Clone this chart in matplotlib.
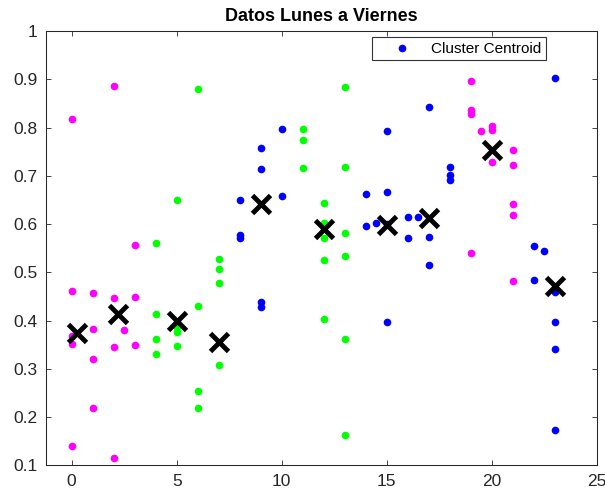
import matplotlib
matplotlib.use("Agg")
import matplotlib.pyplot as plt

plt.rcParams['font.family'] = ['Liberation Sans', 'DejaVu Sans']

# cluster 1 (blue)
blue_x = [8, 8, 8, 9, 9, 9, 9, 10, 10, 14, 14, 14.5, 15, 15, 15, 15,
          16, 16, 16.5, 17, 17, 17, 18, 18, 18, 22, 22, 22.5,
          23, 23, 23, 23, 23]
blue_y = [0.65, 0.577, 0.571, 0.758, 0.714, 0.439, 0.428, 0.797, 0.658,
          0.663, 0.595, 0.602, 0.792, 0.666, 0.60, 0.396,
          0.615, 0.570, 0.615, 0.843, 0.574, 0.516, 0.718, 0.701, 0.691,
          0.555, 0.484, 0.545, 0.903, 0.46, 0.397, 0.34, 0.173]

# cluster 2 (magenta)
mag_x = [0, 0, 0, 0, 0, 1, 1, 1, 1, 2, 2, 2, 2, 2.5, 3, 3, 3,
         19, 19, 19, 19, 19.5, 20, 20, 20, 21, 21, 21, 21, 21]
mag_y = [0.817, 0.461, 0.367, 0.351, 0.141, 0.458, 0.383, 0.32, 0.218,
         0.886, 0.447, 0.345, 0.115, 0.381, 0.557, 0.449, 0.349,
         0.896, 0.837, 0.828, 0.54, 0.792, 0.803, 0.795, 0.728,
         0.753, 0.722, 0.641, 0.619, 0.481]

# cluster 3 (green)
grn_x = [4, 4, 4, 4, 5, 5, 5, 5, 6, 6, 6, 6, 7, 7, 7, 7,
         11, 11, 11, 12, 12, 12, 12, 12, 13, 13, 13, 13, 13, 13]
grn_y = [0.561, 0.414, 0.361, 0.331, 0.649, 0.387, 0.376, 0.347,
         0.88, 0.43, 0.253, 0.219, 0.527, 0.506, 0.477, 0.307,
         0.796, 0.774, 0.717, 0.644, 0.602, 0.571, 0.526, 0.404,
         0.884, 0.718, 0.581, 0.533, 0.362, 0.162]

# centroids
cen_x = [0.24, 2.22, 5.0, 7.0, 9.0, 12.0, 15.0, 17.0, 20.0, 23.0]
cen_y = [0.374, 0.413, 0.40, 0.355, 0.641, 0.589, 0.598, 0.613, 0.754, 0.472]

fig = plt.figure(figsize=(6.05, 4.96), dpi=100)
ax = fig.add_axes([0.076, 0.0619, 0.9108, 0.8756])

ax.plot(blue_x, blue_y, '.', color='#0000ff', markersize=9, label='Cluster Centroid')
ax.plot(mag_x, mag_y, '.', color='#ff00ff', markersize=9)
ax.plot(grn_x, grn_y, '.', color='#00ff00', markersize=9)
ax.plot(cen_x, cen_y, 'x', color='k', markersize=13, markeredgewidth=3.5)

ax.set_xlim(-1.22, 25)
ax.set_ylim(0.1, 1)
ax.set_xticks([0, 5, 10, 15, 20, 25])
ax.set_yticks([0.1, 0.2, 0.3, 0.4, 0.5, 0.6, 0.7, 0.8, 0.9, 1])
ax.set_yticklabels(['0.1', '0.2', '0.3', '0.4', '0.5', '0.6', '0.7', '0.8', '0.9', '1'])
ax.tick_params(direction='in', top=True, right=True, length=3.5, width=0.6,
               labelsize=12.5, labelcolor='#262626', color='#262626', pad=6)
for s in ax.spines.values():
    s.set_color('#262626')
    s.set_linewidth(0.75)

ax.set_title('Datos Lunes a Viernes', fontsize=13, fontweight='bold', pad=7)

leg = ax.legend(loc='upper right', bbox_to_anchor=(0.907, 0.9855), borderaxespad=0,
                fancybox=False, edgecolor='k', fontsize=11, handlelength=3.3,
                handletextpad=0.25, borderpad=0.3)
leg.get_frame().set_linewidth(0.8)

fig.savefig('out.png', dpi=100)
